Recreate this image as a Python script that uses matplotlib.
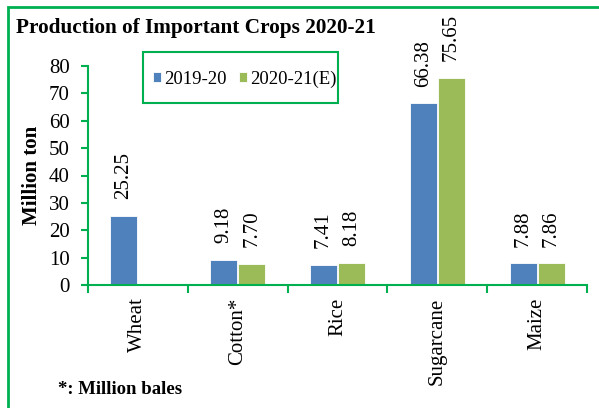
import numpy as np
import matplotlib
matplotlib.use("Agg")
import matplotlib.pyplot as plt
from matplotlib.patches import Rectangle

# data
crops = ["Wheat", "Cotton*", "Rice", "Sugarcane", "Maize"]
prod_2019 = [25.25, 9.18, 7.41, 66.38, 7.88]
prod_2020 = [np.nan, 7.70, 8.18, 75.65, 7.86]
labels_2019 = ["25.25", "9.18", "7.41", "66.38", "7.88"]
labels_2020 = ["", "7.70", "8.18", "75.65", "7.86"]
yticks = [0, 10, 20, 30, 40, 50, 60, 70, 80]

green = "#00B050"
blue = "#4F81BD"
lgreen = "#9BBB59"

plt.rcParams["font.family"] = ["Liberation Serif", "DejaVu Serif"]

W, H = 599, 408
fig = plt.figure(figsize=(W / 100, H / 100), dpi=100)
ax = fig.add_axes([88 / W, 1 - 285 / H, (587 - 88) / W, (285 - 66) / H])

x = np.arange(len(crops))
w = 0.27
ax.bar(x - 0.14, prod_2019, w, color=blue, edgecolor="white", linewidth=0.6, label="2019-20")
ax.bar(x + 0.14, prod_2020, w, color=lgreen, edgecolor="white", linewidth=0.6, label="2020-21(E)")

for xi, v, t in zip(x - 0.14, prod_2019, labels_2019):
    ax.annotate(t, (xi, v), xytext=(0, 12), textcoords="offset points",
                rotation=90, ha="center", va="bottom", fontsize=15)
for xi, v, t in zip(x + 0.14, prod_2020, labels_2020):
    if t:
        ax.annotate(t, (xi, v), xytext=(0, 12), textcoords="offset points",
                    rotation=90, ha="center", va="bottom", fontsize=15)

ax.set_xlim(-0.5, len(crops) - 0.5)
ax.set_ylim(0, 80)
ax.set_yticks(yticks)
ax.set_xticks(x)
ax.set_xticklabels(crops, rotation=90, fontsize=15)
ax.tick_params(axis="x", length=0, pad=9)
ax.set_xticks(np.arange(len(crops) + 1) - 0.5, minor=True)
ax.tick_params(axis="x", which="minor", length=6, color=green, width=1.5, direction="out")
ax.tick_params(axis="y", length=5, color=green, width=1.5, labelsize=15, direction="out", pad=8)

for s in ["top", "right"]:
    ax.spines[s].set_visible(False)
for s in ["left", "bottom"]:
    ax.spines[s].set_color(green)
    ax.spines[s].set_linewidth(1.5)

ax.set_ylabel("Million ton", fontsize=15, fontweight="bold", labelpad=5)

fig.text(16 / W, 1 - 28 / H, "Production of Important Crops 2020-21",
         fontsize=15.3, fontweight="bold", va="center", ha="left")
fig.text(58 / W, 1 - 390 / H, "*: Million bales",
         fontsize=13.5, fontweight="bold", va="center", ha="left")

# legend box drawn separately so its size matches
fig.patches.append(Rectangle((143 / W, 1 - 103 / H), (338 - 143) / W, 51 / H,
                             transform=fig.transFigure, fill=False,
                             edgecolor=green, linewidth=1.5))
leg = ax.legend(loc="center", bbox_to_anchor=(245 / W, 1 - 79 / H),
                bbox_transform=fig.transFigure, ncol=2, fontsize=13.5,
                frameon=False, handlelength=0.4, handleheight=0.4,
                handletextpad=0.2, columnspacing=0.65, borderpad=0, borderaxespad=0)

fig.patches.append(Rectangle((8 / W, -0.1), 1.2, 1 - 7 / H + 0.1,
                             transform=fig.transFigure, fill=False,
                             edgecolor=green, linewidth=2, clip_on=False))

fig.savefig("out.png", dpi=100)
